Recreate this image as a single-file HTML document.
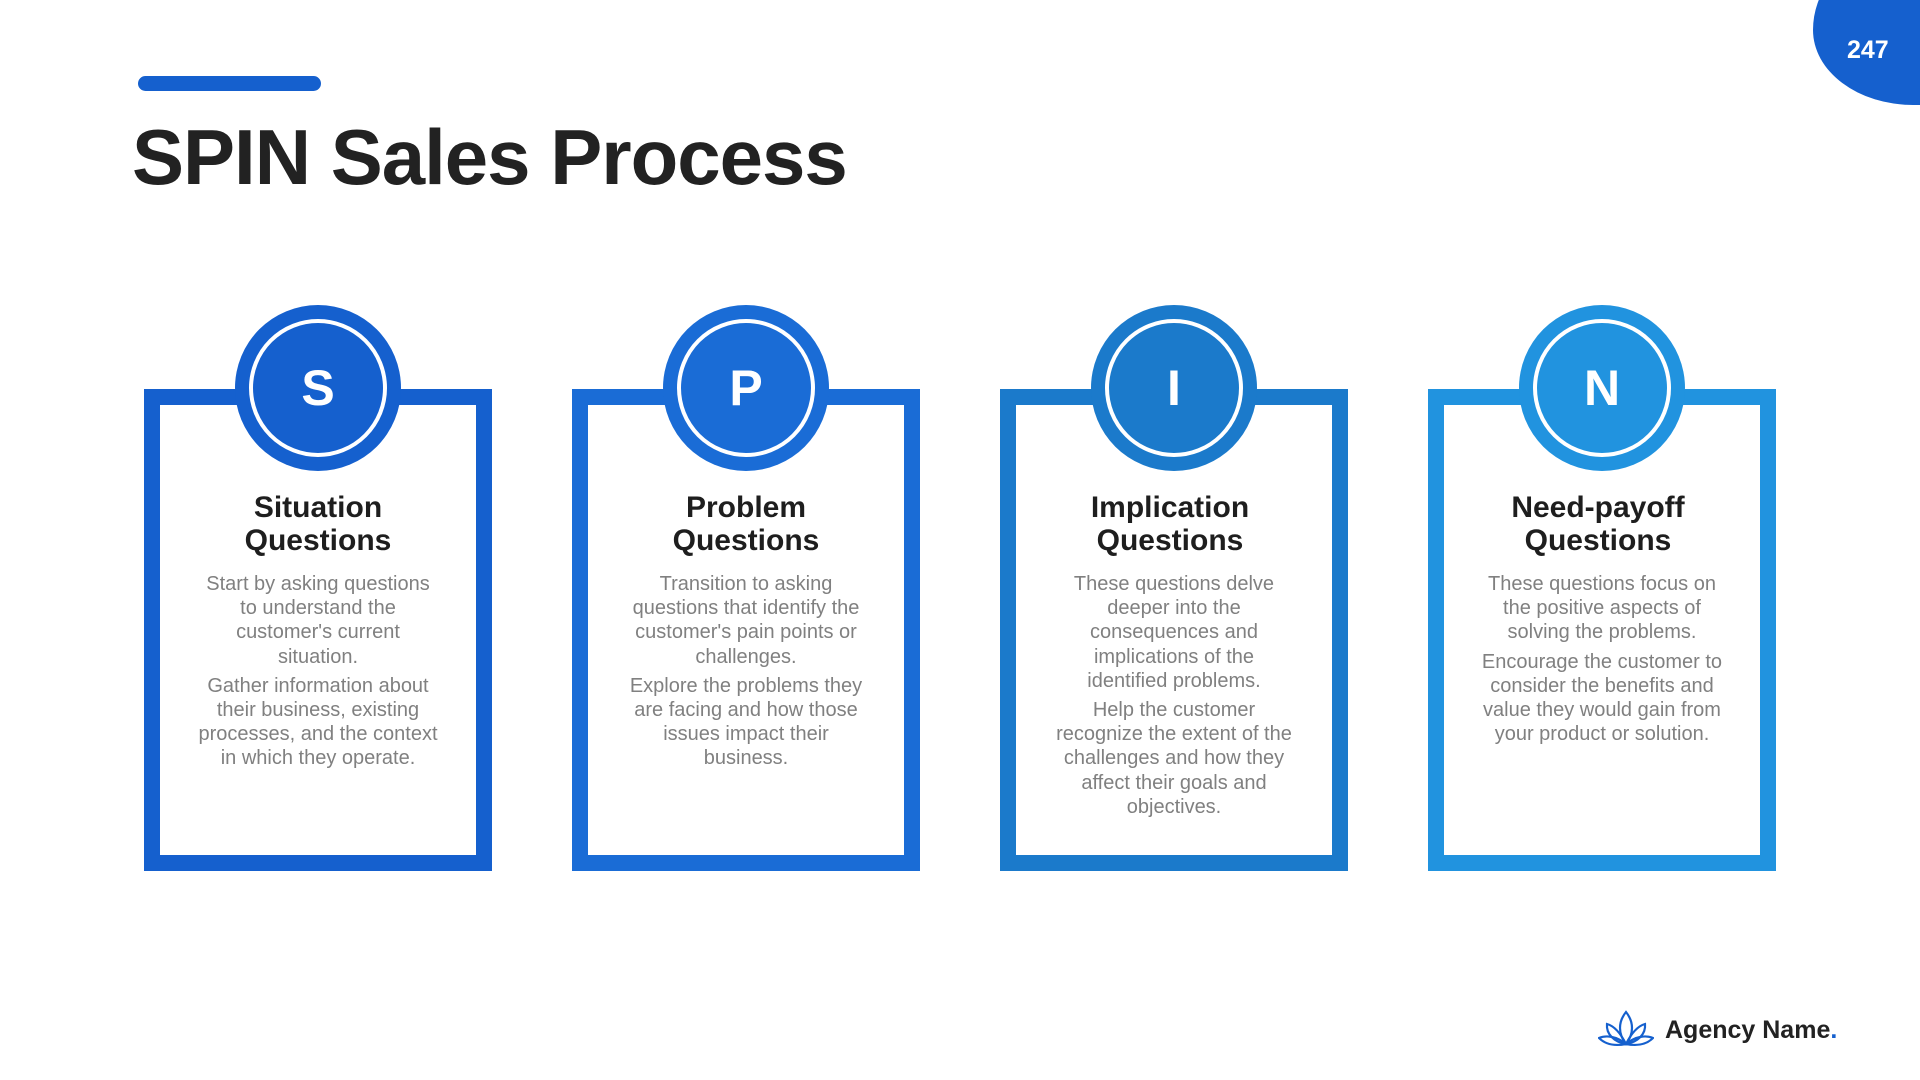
<!DOCTYPE html>
<html><head><meta charset="utf-8"><style>
*{margin:0;padding:0;box-sizing:border-box}
body{width:1920px;height:1080px;position:relative;background:#fff;font-family:"Liberation Sans",sans-serif;overflow:hidden}
.bar{position:absolute;left:138px;top:76px;width:183px;height:15px;border-radius:8px;background:#1560CE}
h1{position:absolute;left:132px;top:112px;font-size:78px;font-weight:bold;color:#222;letter-spacing:-1px;line-height:90px}
.badge{position:absolute;left:1813px;top:-40px;width:160px;height:145px;background:#1560CE;border-radius:60px 0 0 100px / 70px 0 0 75px}
.badge span{position:absolute;left:34px;top:76px;color:#fff;font-weight:bold;font-size:25px}
.card{position:absolute;top:389px;width:348px;height:482px;border:16px solid}
.circ{position:absolute;top:305px;width:166px;height:166px;border-radius:50%}
.circ::after{content:"";position:absolute;left:14px;top:14px;width:138px;height:138px;border-radius:50%;border:4px solid #fff;box-sizing:border-box}
.circ span{position:absolute;left:0;right:0;top:55px;text-align:center;color:#fff;font-weight:bold;font-size:50px;line-height:56px}
.t{position:absolute;top:491px;width:348px;text-align:center;font-weight:bold;font-size:30px;line-height:33px;color:#1e1e1e}
.b{position:absolute;top:572px;width:330px;text-align:center;font-size:20px;line-height:24.2px;color:#808080;white-space:nowrap}
.b p+p{margin-top:5px}
.logo{position:absolute;left:1665px;top:1016px;font-weight:bold;font-size:25px;color:#222}
.logo i{color:#1560CE;font-style:normal}
</style></head><body>
<div class="bar"></div>
<h1>SPIN Sales Process</h1>
<div class="badge"><span>247</span></div>

<div class="card" style="left:144px;border-color:#1560CE"></div>
<div class="circ" style="left:235px;background:#1560CE"><span>S</span></div>
<div class="t" style="left:144px">Situation<br>Questions</div>
<div class="b" style="left:153px"><p>Start by asking questions<br>to understand the<br>customer's current<br>situation.</p><p>Gather information about<br>their business, existing<br>processes, and the context<br>in which they operate.</p></div>

<div class="card" style="left:572px;border-color:#1A6CD6"></div>
<div class="circ" style="left:663px;background:#1A6CD6"><span>P</span></div>
<div class="t" style="left:572px">Problem<br>Questions</div>
<div class="b" style="left:581px"><p>Transition to asking<br>questions that identify the<br>customer's pain points or<br>challenges.</p><p>Explore the problems they<br>are facing and how those<br>issues impact their<br>business.</p></div>

<div class="card" style="left:1000px;border-color:#1B7ACB"></div>
<div class="circ" style="left:1091px;background:#1B7ACB"><span>I</span></div>
<div class="t" style="left:996px">Implication<br>Questions</div>
<div class="b" style="left:1009px"><p>These questions delve<br>deeper into the<br>consequences and<br>implications of the<br>identified problems.</p><p>Help the customer<br>recognize the extent of the<br>challenges and how they<br>affect their goals and<br>objectives.</p></div>

<div class="card" style="left:1428px;border-color:#2193DF"></div>
<div class="circ" style="left:1519px;background:#2193DF"><span>N</span></div>
<div class="t" style="left:1424px">Need-payoff<br>Questions</div>
<div class="b" style="left:1437px"><p>These questions focus on<br>the positive aspects of<br>solving the problems.</p><p>Encourage the customer to<br>consider the benefits and<br>value they would gain from<br>your product or solution.</p></div>

<svg style="position:absolute;left:1598px;top:1010px" width="56" height="38" viewBox="0 0 56 38" fill="none" stroke="#1560CE" stroke-width="2.2">
<path d="M28 2 C20 12 20 24 28 34 C36 24 36 12 28 2Z"/>
<path d="M28 34 C22 22 16 16 9 14 C8 24 16 32 28 34Z"/>
<path d="M28 34 C34 22 40 16 47 14 C48 24 40 32 28 34Z"/>
<path d="M28 34 C18 26 8 25 1 28 C8 35 18 36 28 34Z"/>
<path d="M28 34 C38 26 48 25 55 28 C48 35 38 36 28 34Z"/>
</svg>
<div class="logo">Agency Name<i>.</i></div>
</body></html>
